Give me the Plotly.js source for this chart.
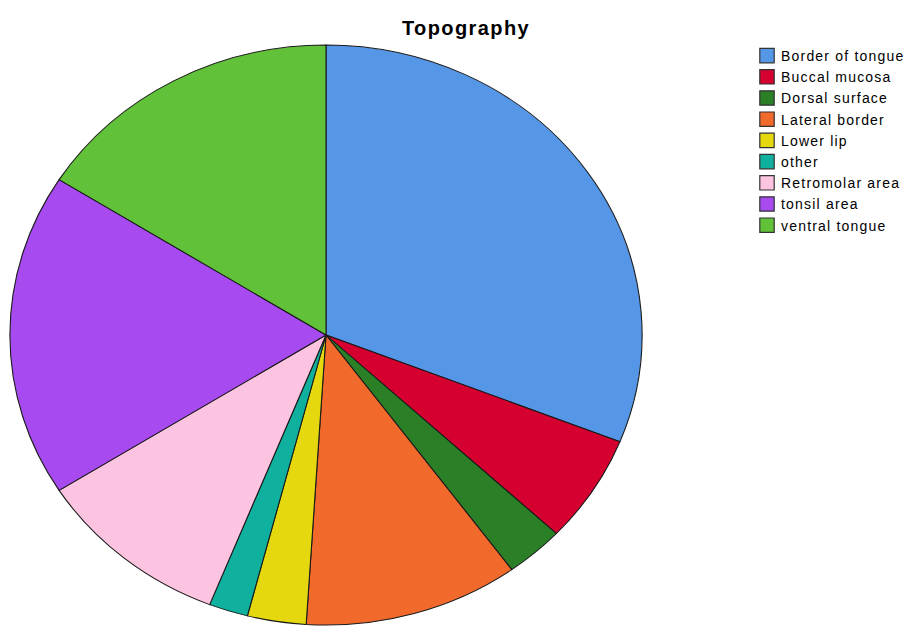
<!DOCTYPE html>
<html>
<head>
<meta charset="utf-8">
<script src="https://cdn.plot.ly/plotly-3.0.1.min.js"></script>
<style>
html,body{margin:0;padding:0;background:#fff;}
#chart{width:909px;height:626px;}
#chart .pielayer{transform:scaleX(1.09);transform-origin:326px 336px;}
#chart .legendtext{letter-spacing:1.2px;}
#chart .gtitle{letter-spacing:1.4px;}
#chart .legend .scrollbox{clip-path:none !important;}
#chart .legend{clip-path:none !important;}
#chart .legendpoints path{transform:translate(26px,0px) scale(1.2);stroke:#333 !important;stroke-width:1px !important;}
</style>
</head>
<body>
<div id="chart"></div>
<script>
const categories = ["Border of tongue","Buccal mucosa","Dorsal surface","Lateral border","Lower lip","other","Retromolar area","tonsil area","ventral tongue"];
const counts = [31, 6, 3, 11, 3, 2, 10, 18, 16];
const colors = ["#5596e6","#d5002f","#2a7f27","#f2692c","#e5d80f","#10b09f","#fdc4e1","#a74bf0","#61c23a"];

const trace = {
  type: "pie",
  labels: categories,
  values: counts,
  sort: false,
  direction: "clockwise",
  rotation: 0,
  textinfo: "none",
  hoverinfo: "label+value",
  marker: {colors: colors, line: {color: "#1a1a1a", width: 1}},
  domain: {x: [36/909, 616/909], y: [0, 582/626]}
};

const layout = {
  width: 909, height: 626,
  margin: {l: 0, r: 0, t: 0, b: 0},
  paper_bgcolor: "#ffffff",
  title: {text: "<b>Topography</b>", x: 466/909, xanchor: "center", xref: "paper",
          y: 1 - 28/626, yanchor: "middle", yref: "paper",
          font: {family: "Liberation Sans, Arial, sans-serif", size: 20, color: "#000"}},
  showlegend: true,
  legend: {x: 741/909, xanchor: "left", y: 1 - 40/626, yanchor: "top",
           font: {family: "Liberation Sans, Arial, sans-serif", size: 14, color: "#000"},
           bgcolor: "rgba(0,0,0,0)", tracegroupgap: 0, itemwidth: 30}
};

Plotly.newPlot("chart", [trace], layout, {displayModeBar: false, staticPlot: true});
</script>
</body>
</html>
